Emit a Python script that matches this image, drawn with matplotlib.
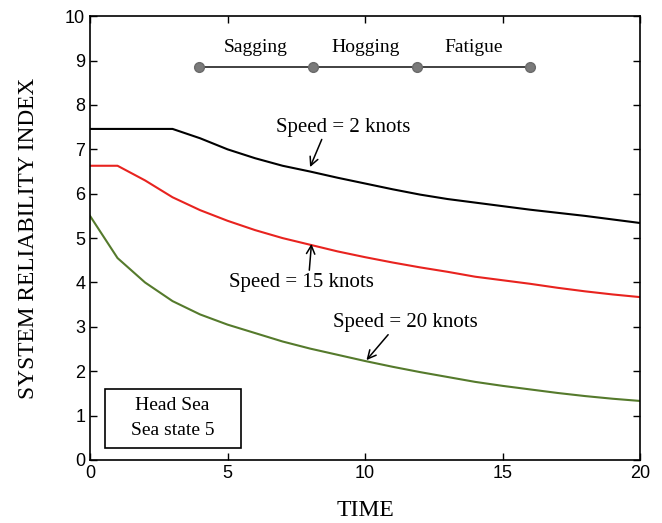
import numpy as np
from matplotlib import pyplot as plt
from matplotlib.patches import Rectangle

# time axis and reliability index
time = [0, 1, 2, 3, 4, 5, 6, 7, 8, 9, 10, 11, 12, 13, 14, 15, 16, 17, 18, 19, 20]
speed2 = [7.46, 7.46, 7.46, 7.46, 7.25, 7.0, 6.8, 6.63, 6.5, 6.36, 6.23, 6.1, 5.98, 5.88, 5.8, 5.72, 5.64, 5.57, 5.5, 5.42, 5.34]
speed15 = [6.63, 6.63, 6.3, 5.92, 5.63, 5.39, 5.18, 5.0, 4.85, 4.7, 4.57, 4.45, 4.34, 4.24, 4.13, 4.05, 3.97, 3.88, 3.8, 3.73, 3.67]
speed20 = [5.5, 4.55, 4.0, 3.58, 3.28, 3.05, 2.86, 2.67, 2.51, 2.37, 2.23, 2.1, 1.98, 1.87, 1.76, 1.67, 1.59, 1.51, 1.44, 1.38, 1.33]

phase_edges = [3.95, 8.1, 11.9, 16.0]
phase_names = ['Sagging', 'Hogging', 'Fatigue']
phase_level = 8.85

serif = 'Liberation Serif'
sans = 'Liberation Sans'

fig = plt.figure(figsize=(6.62, 5.23), dpi=100)
ax = fig.add_axes([0.136, 0.1205, 0.831, 0.8485])

ax.plot(time, speed2, color='black', lw=1.5)
ax.plot(time, speed15, color='#e8231f', lw=1.5)
ax.plot(time, speed20, color='#557a2c', lw=1.5)

# phase bar
ax.plot(phase_edges, [phase_level] * len(phase_edges), '-', color='#333333', lw=1.3)
ax.plot(phase_edges, [phase_level] * len(phase_edges), 'o', color='#7a7a7a', ms=7, mec='#6a6a6a')
for i, name in enumerate(phase_names):
    mid = (phase_edges[i] + phase_edges[i + 1]) / 2
    ax.text(mid, 9.3, name, ha='center', va='center', fontsize=14, family=serif)

arrow = dict(arrowstyle='->', color='black', lw=1.1, shrinkA=0, shrinkB=0)
ax.annotate('Speed = 2 knots', xy=(8.0, 6.6), xytext=(9.2, 7.5), ha='center', va='center',
            fontsize=15, family=serif, arrowprops=dict(arrow, relpos=(0.35, 0)))
ax.annotate('Speed = 15 knots', xy=(8.05, 4.87), xytext=(7.7, 4.0), ha='center', va='center',
            fontsize=15, family=serif, arrowprops=dict(arrow, relpos=(0.55, 1)))
ax.annotate('Speed = 20 knots', xy=(10.05, 2.25), xytext=(11.45, 3.1), ha='center', va='center',
            fontsize=15, family=serif, arrowprops=dict(arrow, relpos=(0.4, 0)))

ax.add_patch(Rectangle((0.55, 0.27), 4.95, 1.33, fill=False, lw=1.2, ec='black'))
ax.text(3.0, 1.23, 'Head Sea', ha='center', va='center', fontsize=14, family=serif)
ax.text(3.0, 0.67, 'Sea state 5', ha='center', va='center', fontsize=14, family=serif)

ax.set_xlim(0, 20)
ax.set_ylim(0, 10)
ax.set_xticks([0, 5, 10, 15, 20])
ax.set_yticks(range(0, 11))
ax.tick_params(axis='both', labelsize=13, length=5, width=1, top=True, right=True, direction='in')
for lab in ax.get_xticklabels() + ax.get_yticklabels():
    lab.set_family(sans)
for sp in ax.spines.values():
    sp.set_linewidth(1.2)

ax.set_xlabel('TIME', fontsize=17, family=serif, labelpad=13)
ax.set_ylabel('SYSTEM RELIABILITY INDEX', fontsize=16.8, family=serif, labelpad=19)

plt.savefig('out.png', dpi=100)
